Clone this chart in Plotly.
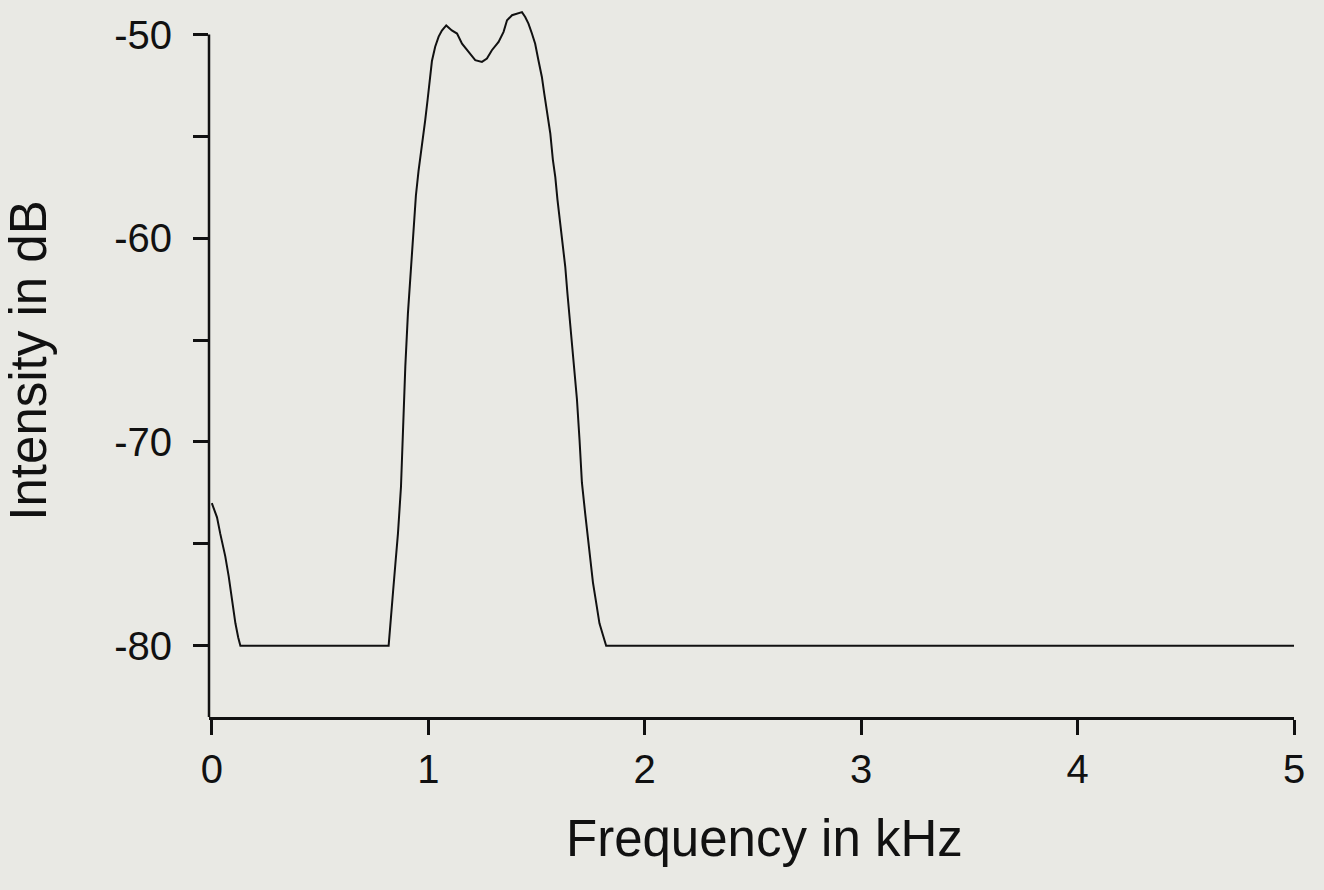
import plotly.graph_objects as go

freq_khz = [0.0, 0.024, 0.039, 0.062, 0.078, 0.093, 0.109, 0.122, 0.132,
            0.817, 0.824, 0.837, 0.848, 0.860, 0.874, 0.883, 0.894, 0.906,
            0.920, 0.932, 0.943, 0.955, 0.971, 0.986, 0.997, 1.006, 1.017,
            1.032, 1.048, 1.063, 1.083, 1.109, 1.133, 1.156, 1.186, 1.217,
            1.248, 1.271, 1.294, 1.325, 1.348, 1.364, 1.387, 1.417, 1.433,
            1.448, 1.463, 1.479, 1.494, 1.509, 1.525, 1.536, 1.548, 1.564,
            1.576, 1.587, 1.597, 1.610, 1.622, 1.633, 1.643, 1.656, 1.671,
            1.687, 1.699, 1.710, 1.725, 1.736, 1.748, 1.761, 1.776, 1.791,
            1.805, 1.814, 1.822, 5.0]
intensity_db = [-73.0, -73.7, -74.5, -75.6, -76.6, -77.8, -78.9, -79.6, -80.0,
                -80.0, -78.9, -77.4, -76.0, -74.5, -72.2, -69.3, -66.3, -63.7,
                -61.6, -59.5, -57.9, -56.7, -55.5, -54.2, -53.2, -52.2, -51.3,
                -50.6, -50.1, -49.8, -49.55, -49.8, -49.95, -50.45, -50.85, -51.26,
                -51.34, -51.18, -50.77, -50.36, -49.87, -49.3, -49.05, -48.97, -48.9,
                -49.14, -49.46, -49.95, -50.45, -51.26, -52.08, -52.9, -53.7, -54.86,
                -56.17, -57.0, -58.1, -59.3, -60.4, -61.4, -62.7, -64.35, -66.1,
                -67.9, -69.9, -72.0, -73.5, -74.65, -75.8, -76.9, -77.9, -78.9,
                -79.4, -79.8, -80.0, -80.0]

x_tickvals = [0, 1, 2, 3, 4, 5]
x_ticktext = ["0", "1", "2", "3", "4", "5"]
y_tickvals = [-80, -75, -70, -65, -60, -55, -50]
y_ticktext = ["-80", "", "-70", "", "-60", "", "-50"]

x_range = [-0.013, 5.0]
y_range = [-83.5, -48.5]
y_axis_top = -50

FONT = "Liberation Sans, Arial, sans-serif"
BG = "#e9e9e4"
INK = "#111111"

fig = go.Figure()
fig.add_trace(go.Scatter(x=freq_khz, y=intensity_db, mode="lines",
                         line=dict(color=INK, width=2),
                         showlegend=False, hoverinfo="skip"))

fig.add_shape(type="line", xref="paper", yref="y", x0=0, x1=0,
              y0=y_range[0], y1=y_axis_top,
              line=dict(color=INK, width=2.5))

fig.add_annotation(text="Frequency in kHz", xref="paper", yref="paper",
                   x=0.5124, y=0, xanchor="center", yanchor="middle", yshift=-121,
                   showarrow=False, font=dict(size=51, family=FONT, color=INK))

fig.update_layout(
    width=1324, height=890,
    margin=dict(l=209, r=30, t=4, b=173),
    paper_bgcolor=BG, plot_bgcolor=BG,
    font=dict(family=FONT, color=INK),
)
fig.update_xaxes(
    range=x_range, tickvals=x_tickvals, ticktext=x_ticktext,
    showgrid=False, zeroline=False, showline=True, linecolor=INK, linewidth=2.5,
    ticks="outside", ticklen=15, tickwidth=2.5, tickcolor=INK,
    tickfont=dict(size=40, family=FONT),
)
fig.update_yaxes(
    range=y_range, tickvals=y_tickvals, ticktext=y_ticktext,
    showgrid=False, zeroline=False, showline=False,
    ticks="outside", ticklen=15, tickwidth=2.5, tickcolor=INK,
    tickfont=dict(size=40, family=FONT), ticklabelstandoff=13,
    title=dict(text="Intensity in dB", font=dict(size=51, family=FONT), standoff=52),
)

fig.write_html("out.html", config={"displayModeBar": False},
               post_script="document.body.style.margin='0';document.body.style.background='" + BG + "';")
